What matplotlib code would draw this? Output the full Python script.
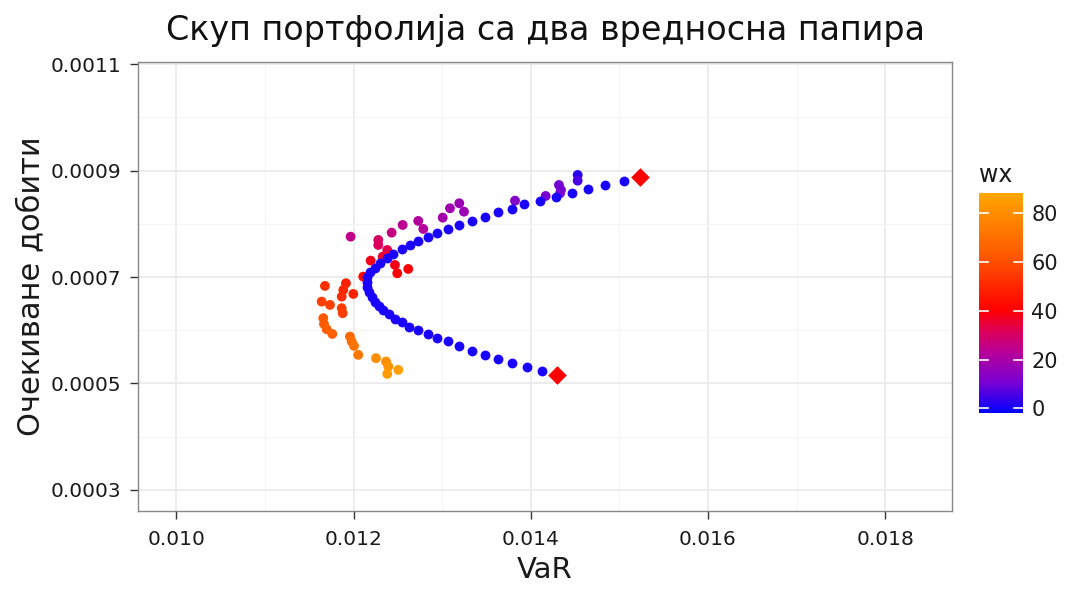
import matplotlib
matplotlib.use("Agg")
import matplotlib.pyplot as plt
from matplotlib.colors import LinearSegmentedColormap, Normalize
from matplotlib.ticker import MultipleLocator, FormatStrFormatter

plt.rcParams['font.family'] = ['DejaVu Sans']

# efficient frontier (two-asset combinations)
frontier_var = [0.014123, 0.013954, 0.013784, 0.013633, 0.013483, 0.013333, 0.013193,
                0.013069, 0.012945, 0.012836, 0.012730, 0.012625, 0.012543, 0.012467,
                0.012400, 0.012335, 0.012287, 0.012242, 0.012204, 0.012177, 0.012155,
                0.012148, 0.012155, 0.012190, 0.012242, 0.012298, 0.012374, 0.012448,
                0.012543, 0.012637, 0.012730, 0.012843, 0.012945, 0.013069, 0.013193,
                0.013333, 0.013483, 0.013626, 0.013784, 0.013923, 0.014104, 0.014284,
                0.014468, 0.014642, 0.014837, 0.015052]
frontier_ret = [0.0005241, 0.0005316, 0.0005391, 0.0005461, 0.0005530, 0.0005611, 0.0005705,
                0.0005793, 0.0005855, 0.0005930, 0.0006000, 0.0006068, 0.0006150, 0.0006212,
                0.0006306, 0.0006382, 0.0006457, 0.0006538, 0.0006632, 0.0006726, 0.0006820,
                0.0006914, 0.0007008, 0.0007087, 0.0007165, 0.0007259, 0.0007353, 0.0007434,
                0.0007523, 0.0007603, 0.0007684, 0.0007759, 0.0007823, 0.0007898, 0.0007974,
                0.0008049, 0.0008124, 0.0008218, 0.0008286, 0.0008368, 0.0008436, 0.0008511,
                0.0008581, 0.0008650, 0.0008726, 0.0008801]

# the two single securities
asset_var = [0.014299, 0.015233]
asset_ret = [0.000516, 0.000889]

# portfolios coloured by wx
pf_var = [0.011967, 0.012193, 0.012279, 0.012279, 0.012430, 0.012554, 0.012730, 0.012787,
          0.013006, 0.013088, 0.013193, 0.013246, 0.012380, 0.012328, 0.012411, 0.012467,
          0.012493, 0.012617, 0.012109, 0.013822, 0.014168, 0.014318, 0.014341, 0.014330,
          0.014529, 0.014529,
          0.011677, 0.011914, 0.011884, 0.011866, 0.011997, 0.011640, 0.011734, 0.011866,
          0.011877, 0.011658, 0.011666, 0.011696, 0.011760, 0.011959, 0.011979, 0.012005,
          0.012053, 0.012253, 0.012366, 0.012392, 0.012380, 0.012505]
pf_ret = [0.0007759, 0.0007308, 0.0007697, 0.0007603, 0.0007835, 0.0007979, 0.0008055, 0.0007904,
          0.0008117, 0.0008293, 0.0008387, 0.0008229, 0.0007509, 0.0007383, 0.0007434, 0.0007227,
          0.0007071, 0.0007152, 0.0007008, 0.0008436, 0.0008524, 0.0008731, 0.0008637, 0.0008575,
          0.0008919, 0.0008812,
          0.0006833, 0.0006883, 0.0006758, 0.0006632, 0.0006682, 0.0006538, 0.0006476, 0.0006414,
          0.0006320, 0.0006226, 0.0006118, 0.0006019, 0.0005930, 0.0005880, 0.0005786, 0.0005705,
          0.0005536, 0.0005474, 0.0005410, 0.0005316, 0.0005179, 0.0005254]
pf_wx = [25, 38, 30, 31, 26, 24, 22, 22,
         19, 18, 17, 17, 33, 35, 34, 38,
         40, 40, 42, 13, 11, 10, 10, 11,
         2, 6,
         52, 48, 50, 51, 49, 56, 56, 55,
         56, 62, 63, 64, 65, 68, 70, 71,
         72, 80, 80, 82, 84, 86]

cmap = LinearSegmentedColormap.from_list(
    "wx", [(0.0, "#0000FF"), (0.14, "#7A00D2"), (0.27, "#B4009C"),
           (0.37, "#DC005A"), (0.47, "#FF0000"), (0.72, "#FF5A00"), (1.0, "#FFA500")])
norm = Normalize(vmin=-2, vmax=88)

fig = plt.figure(figsize=(10.68, 5.89), dpi=100)
ax = fig.add_axes([0.1292, 0.1324, 0.7622, 0.7623])

ax.scatter(pf_var, pf_ret, c=pf_wx, cmap=cmap, norm=norm, s=50, linewidths=0, zorder=3)
ax.scatter(frontier_var, frontier_ret, color="#1A00FF", s=50, linewidths=0, zorder=4)
ax.scatter(asset_var, asset_ret, color="#FF0000", marker="D", s=90, linewidths=0, zorder=5)

ax.set_xlim(0.009567, 0.018754)
ax.set_ylim(0.00026, 0.0011043)
ax.xaxis.set_major_locator(MultipleLocator(0.002))
ax.xaxis.set_minor_locator(MultipleLocator(0.001))
ax.yaxis.set_major_locator(MultipleLocator(0.0002, offset=0.0001))
ax.yaxis.set_minor_locator(MultipleLocator(0.0002))
ax.xaxis.set_major_formatter(FormatStrFormatter("%.3f"))
ax.yaxis.set_major_formatter(FormatStrFormatter("%.4f"))

ax.grid(True, which="major", color="#EBEBEB", linewidth=1.3, zorder=0)
ax.grid(True, which="minor", color="#F5F5F5", linewidth=0.8, zorder=0)
ax.set_axisbelow(True)
ax.tick_params(which="minor", length=0)
ax.tick_params(which="major", length=6, width=1, color="#333333",
               labelsize=14.5, labelcolor="#1a1a1a")
ax.tick_params(axis="x", pad=8)
ax.tick_params(axis="y", pad=6)
for sp in ax.spines.values():
    sp.set_color("#888888")
    sp.set_linewidth(1)

ax.set_xlabel("VaR", fontsize=21, color="#1a1a1a", labelpad=5)
ax.set_ylabel("Очекиване добити", fontsize=22, color="#1a1a1a", labelpad=4)
ax.set_title("Скуп портфолија са два вредносна папира", fontsize=24, color="#111111", pad=16)

cax = fig.add_axes([0.9167, 0.2983, 0.0412, 0.3735])
sm = plt.cm.ScalarMappable(cmap=cmap, norm=norm)
cb = fig.colorbar(sm, cax=cax, ticks=[0, 20, 40, 60, 80])
cb.outline.set_visible(False)
cb.ax.tick_params(length=0, labelsize=15, labelcolor="#1a1a1a", pad=6)
for t in [0, 20, 40, 60, 80]:
    cax.plot([0, 0.2], [t, t], color="white", lw=1.2, transform=cax.get_yaxis_transform())
    cax.plot([0.8, 1.0], [t, t], color="white", lw=1.2, transform=cax.get_yaxis_transform())
cax.text(0.0, 1.03, "wx", transform=cax.transAxes, fontsize=17, color="#1a1a1a",
         ha="left", va="bottom")

fig.savefig("out.png", dpi=100)
